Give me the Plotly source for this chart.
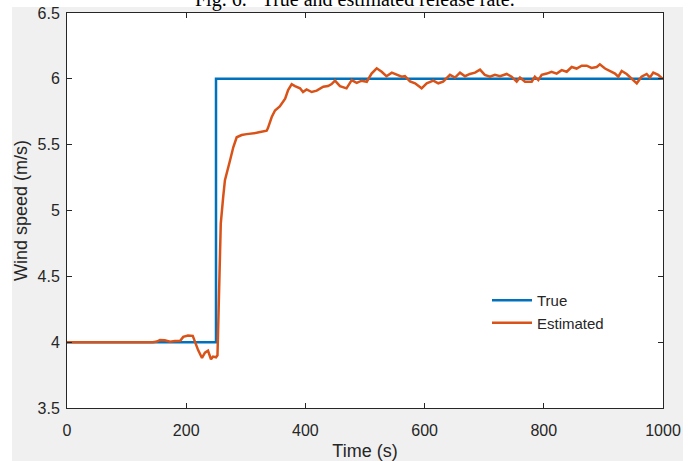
import plotly.graph_objects as go

# True wind speed (step)
true_t = [0, 250, 250, 1000]
true_v = [4.0, 4.0, 6.0, 6.0]

# Estimated wind speed
est_t = [0, 60, 122, 136, 144, 151, 156, 164, 173, 181, 190, 195, 203, 211, 215, 220,
         226.5, 231.5, 236.6, 241.6, 245, 250, 252.5, 255, 258, 262, 265, 273.5, 279,
         284.7, 293, 301.5, 318, 335, 337, 343.5, 349, 357, 366, 371, 377, 382.5, 391,
         396, 402, 410.6, 419, 430, 438, 444, 449.7, 458, 469, 477.7, 486, 494.5, 503,
         511, 519.6, 528, 536, 545, 553, 561.6, 567, 575.5, 584, 589.4, 595, 603.5,
         614.6, 623, 631, 642.6, 651, 659.4, 667.8, 676, 684.6, 693, 701, 709.7, 718,
         726.5, 737.8, 746, 754.5, 760, 768.5, 779.7, 785, 790.8, 796.5, 805, 813,
         821.6, 830, 838.4, 846.8, 855, 863.6, 872, 880, 888.8, 894, 902.7, 911, 919.5,
         925, 930.7, 939, 947.5, 956, 964, 972.6, 978, 983.7, 992, 1000]
est_v = [4.0, 4.0, 4.0, 3.998, 4.0, 4.005, 4.017, 4.015, 4.004, 4.008, 4.01, 4.04, 4.05,
         4.048, 3.996, 3.94, 3.88, 3.92, 3.935, 3.87, 3.89, 3.885, 3.9, 4.4, 4.9, 5.1,
         5.23, 5.38, 5.48, 5.556, 5.573, 5.58, 5.59, 5.606, 5.624, 5.71, 5.76, 5.79,
         5.85, 5.915, 5.96, 5.945, 5.928, 5.90, 5.92, 5.90, 5.91, 5.94, 5.945, 5.96,
         5.986, 5.945, 5.928, 5.99, 5.97, 5.986, 5.978, 6.04, 6.08, 6.054, 6.02, 6.047,
         6.03, 6.016, 6.02, 5.98, 5.966, 5.945, 5.928, 5.966, 5.986, 5.966, 5.978, 6.03,
         6.01, 6.047, 6.02, 6.037, 6.047, 6.07, 6.03, 6.016, 6.03, 6.02, 6.037, 6.016,
         5.978, 6.01, 5.978, 5.978, 6.016, 5.99, 6.03, 6.04, 6.054, 6.04, 6.066, 6.054,
         6.09, 6.078, 6.10, 6.10, 6.083, 6.09, 6.11, 6.078, 6.06, 6.04, 6.016, 6.06,
         6.037, 5.998, 5.966, 6.016, 6.037, 6.01, 6.047, 6.03, 5.998]

x_ticks = [0, 200, 400, 600, 800, 1000]
y_ticks = [3.5, 4, 4.5, 5, 5.5, 6, 6.5]

AX = "#262626"
FONT = "Liberation Sans, Arial, sans-serif"

fig = go.Figure()
fig.add_trace(go.Scatter(x=true_t, y=true_v, mode="lines", name="True",
                         line=dict(color="#0072BD", width=2.5)))
fig.add_trace(go.Scatter(x=est_t, y=est_v, mode="lines", name="Estimated",
                         line=dict(color="#D95319", width=2.5)))

axis_common = dict(showline=True, linecolor=AX, linewidth=1, mirror="ticks",
                   ticks="inside", ticklen=5, tickcolor=AX, tickwidth=1,
                   showgrid=False, zeroline=False, automargin=False,
                   tickfont=dict(family=FONT, size=16, color=AX))

fig.update_xaxes(range=[0, 1000], tickvals=x_ticks, ticklabelstandoff=8, **axis_common,
                 title=dict(text="Time (s)", font=dict(family=FONT, size=18, color=AX),
                            standoff=8))
fig.update_yaxes(range=[3.5, 6.5], tickvals=y_ticks, ticklabelstandoff=3, **axis_common,
                 title=dict(text="Wind speed (m/s)", font=dict(family=FONT, size=18, color=AX),
                            standoff=5))

# white strips outside the grey figure area
for x0, x1, y0, y1 in [(-0.2, 1.2, 1.0152, 1.2), (-0.2, -0.0923, -0.3, 1.2), (1.0336, 1.2, -0.3, 1.2)]:
    fig.add_shape(type="rect", xref="paper", yref="paper", x0=x0, x1=x1, y0=y0, y1=y1,
                  fillcolor="white", line=dict(width=0), layer="below")

fig.add_annotation(text="Fig. 6.&nbsp;&nbsp;&nbsp;True and estimated release rate.",
                   xref="paper", yref="paper", x=(355 - 67) / 596, y=1.033,
                   xanchor="center", yanchor="middle", showarrow=False,
                   font=dict(family="Liberation Serif, Times New Roman, serif", size=20, color="black"))

fig.update_layout(
    width=696, height=461,
    margin=dict(l=67, r=33, t=13, b=53, autoexpand=False),
    paper_bgcolor="#F0F0F0", plot_bgcolor="white",
    showlegend=True,
    legend=dict(x=(487 - 67) / 596, y=(408 - 284) / 395, xanchor="left", yanchor="top",
                bgcolor="rgba(0,0,0,0)", borderwidth=0, itemwidth=40,
                font=dict(family=FONT, size=15, color=AX)),
)

fig.write_html("out.html")
